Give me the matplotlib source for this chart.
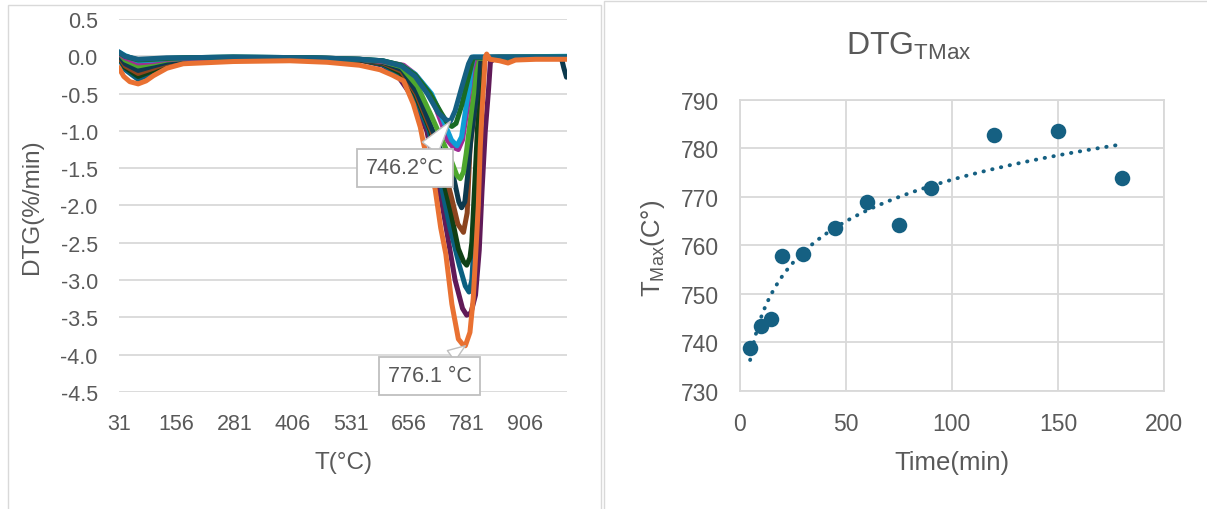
import matplotlib as mpl

mpl.use("Agg")
import matplotlib.pyplot as plt
import numpy as np
from matplotlib.patches import Rectangle

plt.rcParams['font.family'] = ['Liberation Sans', 'DejaVu Sans']
plt.rcParams['mathtext.fontset'] = 'custom'
plt.rcParams['mathtext.rm'] = 'Liberation Sans'
plt.rcParams['axes.unicode_minus'] = False

GREY_TXT = '#595959'
GRID = '#D9D9D9'

# ---- left chart: DTG curves (T in degC, DTG in %/min)
t_teal = [31, 45, 73, 106, 135, 170, 278, 450, 550, 600, 640, 670, 696, 720, 736, 746, 756, 770, 785, 792, 850, 997]
dtg_teal = [0.06, 0.0, -0.04, -0.03, -0.02, -0.02, -0.01, -0.02, -0.04, -0.06, -0.13, -0.27, -0.50, -0.76, -0.85, -0.87, -0.73, -0.42, -0.10, -0.01, -0.01, -0.01]

t_dkgreen = [31, 45, 73, 106, 135, 170, 278, 450, 550, 600, 640, 670, 702, 726, 740, 749, 758, 770, 782, 795, 850, 997]
dtg_dkgreen = [0.05, 0.0, -0.05, -0.04, -0.03, -0.02, -0.01, -0.02, -0.04, -0.06, -0.12, -0.25, -0.50, -0.76, -0.90, -0.94, -0.90, -0.66, -0.35, -0.02, -0.01, -0.01]

t_ltblue = [31, 45, 73, 106, 135, 170, 278, 450, 550, 600, 640, 670, 705, 730, 748, 760, 770, 780, 787, 791, 796, 850, 997]
dtg_ltblue = [0.06, 0.01, -0.06, -0.05, -0.03, -0.02, -0.01, -0.02, -0.04, -0.06, -0.12, -0.24, -0.50, -0.85, -1.12, -1.20, -1.08, -0.66, -0.40, -0.15, -0.01, -0.01, 0.0]

t_magenta = [31, 45, 73, 106, 135, 170, 278, 450, 550, 600, 645, 670, 688, 702, 716, 730, 740, 752, 763, 772, 782, 792, 799, 850, 997]
dtg_magenta = [0.04, -0.02, -0.09, -0.07, -0.04, -0.03, -0.02, -0.02, -0.04, -0.07, -0.12, -0.24, -0.38, -0.50, -0.72, -0.95, -1.13, -1.22, -1.25, -1.12, -0.70, -0.20, -0.02, -0.01, -0.01]

t_green = [31, 45, 73, 106, 135, 170, 278, 450, 550, 600, 640, 675, 705, 730, 749, 760, 767, 774, 780, 790, 796, 801, 850, 997]
dtg_green = [0.05, -0.05, -0.13, -0.09, -0.05, -0.03, -0.02, -0.02, -0.04, -0.07, -0.14, -0.40, -0.80, -1.15, -1.42, -1.60, -1.64, -1.55, -1.30, -0.80, -0.50, -0.03, -0.02, -0.01]

t_navy = [31, 45, 73, 106, 135, 170, 278, 450, 550, 600, 642, 675, 708, 735, 752, 764, 770, 777, 783, 790, 803, 809, 900, 985, 990, 996]
dtg_navy = [0.02, -0.10, -0.19, -0.13, -0.08, -0.04, -0.02, -0.03, -0.05, -0.08, -0.18, -0.50, -1.00, -1.40, -1.60, -1.95, -2.03, -1.95, -1.60, -1.10, -0.50, -0.03, -0.02, -0.02, -0.15, -0.28]

t_brown = [31, 45, 73, 106, 135, 170, 278, 450, 550, 600, 640, 672, 705, 728, 749, 762, 774, 782, 788, 800, 810, 850, 997]
dtg_brown = [0.0, -0.13, -0.23, -0.16, -0.09, -0.05, -0.02, -0.03, -0.05, -0.09, -0.20, -0.50, -1.00, -1.40, -1.91, -2.25, -2.36, -2.10, -1.24, -0.60, -0.03, -0.02, -0.02]

t_dkgreen2 = [31, 45, 73, 106, 135, 170, 278, 450, 550, 600, 638, 670, 703, 728, 747, 763, 774, 781, 788, 792, 800, 808, 813, 850, 997]
dtg_dkgreen2 = [0.0, -0.15, -0.27, -0.19, -0.11, -0.06, -0.03, -0.03, -0.05, -0.10, -0.22, -0.50, -1.00, -1.60, -2.10, -2.58, -2.75, -2.80, -2.70, -2.50, -1.50, -0.50, -0.03, -0.02, -0.02]

t_teal2 = [31, 45, 73, 106, 135, 170, 278, 450, 550, 600, 635, 665, 700, 725, 745, 765, 778, 786, 792, 796, 803, 810, 815, 850, 997]
dtg_teal2 = [-0.02, -0.18, -0.31, -0.22, -0.13, -0.07, -0.03, -0.03, -0.05, -0.11, -0.24, -0.50, -1.00, -1.70, -2.30, -2.80, -3.08, -3.16, -3.00, -2.58, -1.60, -0.50, -0.03, -0.02, -0.02]

t_purple = [31, 45, 73, 106, 135, 170, 278, 450, 550, 600, 630, 659, 680, 695, 726, 756, 772, 781, 790, 800, 808, 814, 821, 828, 832, 840, 900, 997]
dtg_purple = [0.0, -0.06, -0.11, -0.08, -0.05, -0.03, -0.02, -0.03, -0.05, -0.12, -0.24, -0.50, -0.78, -1.00, -1.91, -3.00, -3.38, -3.47, -3.44, -3.20, -2.60, -1.80, -1.00, -0.45, -0.08, -0.03, -0.03, -0.03]

t_orange = [31, 42, 55, 73, 90, 106, 135, 170, 278, 400, 480, 550, 594, 620, 645, 666, 681, 688, 713, 725, 736, 749, 763, 772, 778, 788, 795, 801, 806, 810, 814, 821, 824, 831, 852, 870, 886, 930, 997]
dtg_orange = [-0.15, -0.27, -0.34, -0.37, -0.33, -0.26, -0.16, -0.10, -0.07, -0.06, -0.08, -0.12, -0.18, -0.25, -0.33, -0.64, -0.95, -1.17, -1.78, -2.30, -2.65, -3.32, -3.79, -3.86, -3.88, -3.70, -3.25, -2.58, -2.00, -1.24, -0.73, -0.01, 0.03, -0.04, -0.06, -0.09, -0.05, -0.04, -0.04]

t_ticks = [31, 156, 281, 406, 531, 656, 781, 906]
dtg_ticks = [0.5, 0.0, -0.5, -1.0, -1.5, -2.0, -2.5, -3.0, -3.5, -4.0, -4.5]

# ---- right chart: T max vs time
time_min = [5, 10, 15, 20, 30, 45, 60, 75, 90, 120, 150, 180]
t_max = [738.7, 743.3, 744.8, 757.8, 758.2, 763.5, 769.0, 764.2, 771.7, 782.7, 783.5, 773.8]

fig = plt.figure(figsize=(12.07, 5.10), dpi=100)

# panel frames
fig.patches.append(Rectangle((0.0066, -0.02), 0.4913, 1.008, transform=fig.transFigure,
                             fill=False, ec=GRID, lw=1.0))
fig.patches.append(Rectangle((0.5004, -0.02), 0.52, 1.016, transform=fig.transFigure,
                             fill=False, ec=GRID, lw=1.0))

ax = fig.add_axes([0.0983, 0.2294, 0.3718, 0.7314])
series = [
    (t_purple, dtg_purple, '#601A58'),
    (t_teal2, dtg_teal2, '#095F80'),
    (t_dkgreen2, dtg_dkgreen2, '#0F4016'),
    (t_brown, dtg_brown, '#8C441E'),
    (t_navy, dtg_navy, '#0D3A4E'),
    (t_green, dtg_green, '#4EA72E'),
    (t_magenta, dtg_magenta, '#A02B93'),
    (t_ltblue, dtg_ltblue, '#0F9ED5'),
    (t_dkgreen, dtg_dkgreen, '#196B24'),
    (t_teal, dtg_teal, '#156082'),
    (t_orange, dtg_orange, '#E97132'),
]
for t, d, c in series:
    ax.plot(t, d, color=c, lw=3.6, solid_joinstyle='round', solid_capstyle='round', zorder=3)

ax.set_xlim(31, 998)
ax.set_ylim(-4.5, 0.5)
ax.set_xticks(t_ticks)
ax.set_yticks(dtg_ticks)
ax.set_yticklabels([f'{v:.1f}' for v in dtg_ticks])
ax.grid(axis='y', color=GRID, lw=1.3)
ax.set_axisbelow(True)
for s in ax.spines.values():
    s.set_visible(False)
ax.tick_params(length=0, labelsize=15.5, labelcolor=GREY_TXT)
ax.tick_params(axis='x', pad=15)
ax.tick_params(axis='y', pad=15)
ax.set_xlabel('T(°C)', fontsize=17.5, color=GREY_TXT)
ax.set_ylabel('DTG(%/min)', fontsize=17.5, color=GREY_TXT)
ax.xaxis.set_label_coords(0.5, -0.158)
ax.yaxis.set_label_coords(-0.168, 0.5)

# callouts
box = dict(boxstyle='square,pad=0.4', fc='white', ec='#BFBFBF', lw=1.3)
i1 = int(np.argmin(dtg_teal))
ax.annotate('746.2°C', xy=(t_teal[i1], dtg_teal[i1]), xytext=(-32.7, -33.5),
            textcoords='offset points', ha='center', va='center', fontsize=15.5,
            color=GREY_TXT, bbox=box, zorder=5,
            arrowprops=dict(arrowstyle='wedge,tail_width=0.9,shrink_factor=0.5',
                            fc='white', ec='#BFBFBF', lw=1.0, relpos=(0.73, 1.0),
                            shrinkA=0, shrinkB=0))
i2 = int(np.argmin(dtg_orange))
ax.annotate('776.1 °C', xy=(t_orange[i2], dtg_orange[i2]), xytext=(-25.6, -21.5),
            textcoords='offset points', ha='center', va='center', fontsize=15.5,
            color=GREY_TXT, bbox=box, zorder=5,
            arrowprops=dict(arrowstyle='wedge,tail_width=0.6,shrink_factor=0.5',
                            fc='white', ec='#BFBFBF', lw=1.0, relpos=(0.6, 1.0),
                            shrinkA=0, shrinkB=0))

# ---- right chart
ax2 = fig.add_axes([0.6127, 0.2320, 0.3517, 0.5706])
ax2.scatter(time_min, t_max, s=125, color='#156082', zorder=3, linewidths=0)
coef = np.polyfit(np.log(time_min), t_max, 1)
tt = np.linspace(min(time_min), max(time_min), 200)
ax2.plot(tt, np.polyval(coef, np.log(tt)), color='#156082', lw=2.8, ls=(0, (0.1, 2.2)),
         dash_capstyle='round', zorder=2)
ax2.set_xlim(0, 200)
ax2.set_ylim(730, 790)
ax2.set_xticks([0, 50, 100, 150, 200])
ax2.set_yticks([730, 740, 750, 760, 770, 780, 790])
ax2.grid(True, color=GRID, lw=1.3)
ax2.set_axisbelow(True)
for s in ax2.spines.values():
    s.set_color(GRID)
    s.set_linewidth(1.3)
ax2.tick_params(length=0, labelsize=16.5, labelcolor=GREY_TXT, pad=15)
ax2.set_xlabel('Time(min)', fontsize=18.5, color=GREY_TXT)
ax2.set_ylabel(r'T$_{\mathregular{Max}}$(C°)', fontsize=18.5, color=GREY_TXT)
ax2.xaxis.set_label_coords(0.5, -0.204)
ax2.yaxis.set_label_coords(-0.172, 0.494)

fig.text(0.7527, 1 - 55 / 510, r'DTG$_{\mathregular{TMax}}$', ha='center', va='baseline',
         fontsize=23, color=GREY_TXT)

fig.savefig('out.png', dpi=100)
